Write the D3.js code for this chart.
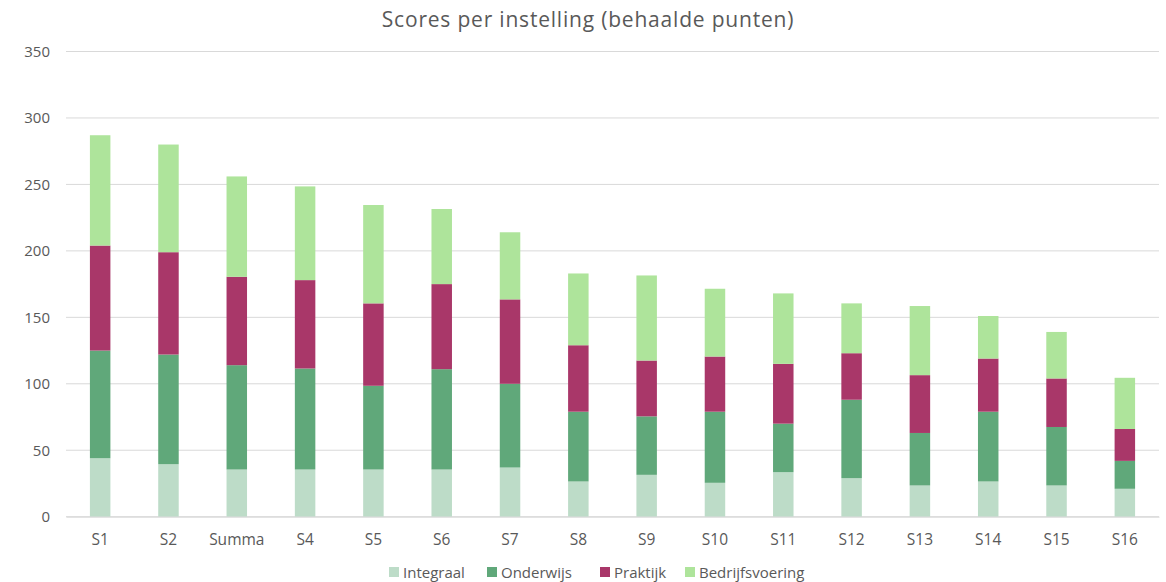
<!DOCTYPE html>
<html><head><meta charset="utf-8">
<script src="https://cdn.jsdelivr.net/npm/d3@7"></script>
<style>body{margin:0;background:#fff;}svg{display:block;font-family:"Open Sans",sans-serif;}</style>
</head><body><svg id="c" width="1166" height="582"></svg>
<script>
const categories = ["S1","S2","Summa","S4","S5","S6","S7","S8","S9","S10","S11","S12","S13","S14","S15","S16"];
const integraal = [44,39.5,35.5,35.5,35.5,35.5,37,26.5,31.5,25.5,33.5,29,23.5,26.5,23.5,21];
const onderwijs = [81,82.5,78.5,76,63,75.5,63,52.5,44,53.5,36.5,59,39.5,52.5,44,21];
const praktijk = [79,77,66.5,66.5,62,64,63.5,50,42,41.5,45,35,43.5,40,36.5,24];
const bedrijfsvoering = [83,81,75.5,70.5,74,56.5,50.5,54,64,51,53,37.5,52,32,35,38.5];
const seriesNames = ["Integraal","Onderwijs","Praktijk","Bedrijfsvoering"];
const yTicks = [0,50,100,150,200,250,300,350];
const colors = ["#bddcc8","#60a87a","#a93769","#aee49b"];

const svg = d3.select("#c");
const m = {left:66, right:1159, top:51.5, bottom:516.7};
const x = d3.scaleBand().domain(categories).range([m.left,m.right]).paddingInner(0.7).paddingOuter(0.35);
const y = d3.scaleLinear().domain([0,350]).range([m.bottom,m.top]);

svg.append("g").selectAll("line").data(yTicks).join("line")
  .attr("x1",m.left).attr("x2",m.right)
  .attr("y1",d=>y(d)).attr("y2",d=>y(d))
  .attr("stroke","#d9d9d9").attr("stroke-width",1);

const table = categories.map((c,i)=>({cat:c,Integraal:integraal[i],Onderwijs:onderwijs[i],Praktijk:praktijk[i],Bedrijfsvoering:bedrijfsvoering[i]}));
const stack = d3.stack().keys(seriesNames)(table);
svg.append("g").selectAll("g").data(stack).join("g")
  .attr("fill",(d,i)=>colors[i])
  .selectAll("rect").data(d=>d).join("rect")
  .attr("x",d=>x(d.data.cat)).attr("width",x.bandwidth())
  .attr("y",d=>y(d[1])).attr("height",d=>y(d[0])-y(d[1]));

const ya = svg.append("g").attr("transform",`translate(${m.left},0)`)
  .call(d3.axisLeft(y).tickValues(yTicks).tickSize(0).tickPadding(16));
ya.select(".domain").remove();
ya.selectAll("text").attr("fill","#595959").style("font-size","15px").style("font-family","'Open Sans',sans-serif");

const xa = svg.append("g").attr("transform",`translate(0,${m.bottom})`)
  .call(d3.axisBottom(x).tickSize(0).tickPadding(17));
xa.select(".domain").attr("stroke","#d9d9d9");
xa.selectAll("text").attr("fill","#595959").style("font-size","15.5px").style("font-family","'Open Sans',sans-serif");

svg.append("text").attr("x",588).attr("y",27).attr("text-anchor","middle")
  .attr("fill","#595959").style("font-size","21px").style("letter-spacing","0.8px")
  .text("Scores per instelling (behaalde punten)");

const lg = svg.append("g");
const lx = [389,487,600,685];
seriesNames.forEach((n,i)=>{
  lg.append("rect").attr("x",lx[i]).attr("y",567).attr("width",10).attr("height",10).attr("fill",colors[i]);
  lg.append("text").attr("x",lx[i]+14).attr("y",577.5).attr("fill","#595959").style("font-size","15px").text(n);
});
</script></body></html>
